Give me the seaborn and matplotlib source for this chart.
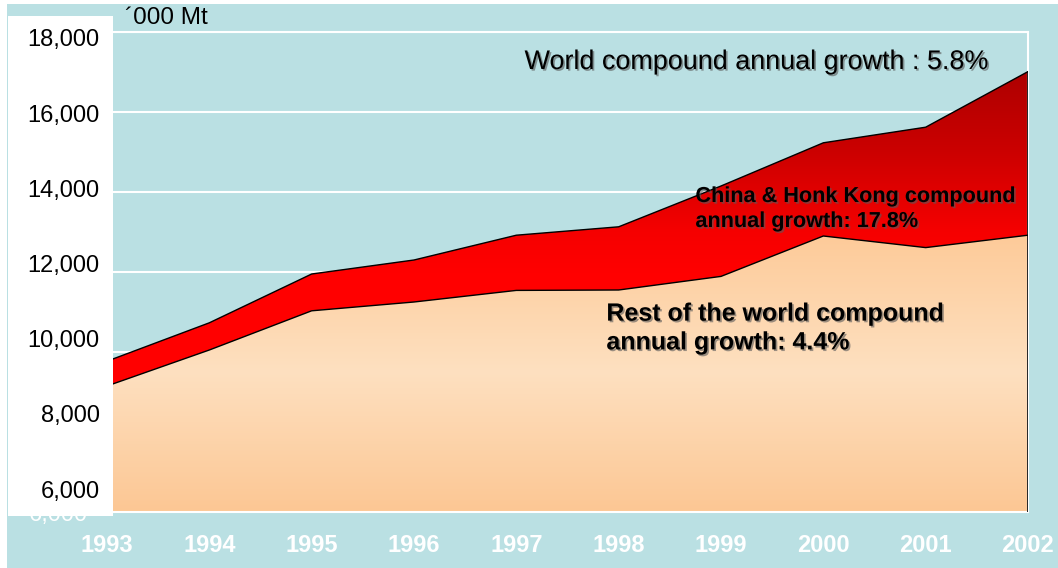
import numpy as np
import matplotlib
matplotlib.use("Agg")
import matplotlib.pyplot as plt
import matplotlib.patheffects as pe
from matplotlib.colors import LinearSegmentedColormap, Normalize
from matplotlib.patches import Rectangle
import seaborn as sns

# ---- data ('000 Mt) ----
years = [1993, 1994, 1995, 1996, 1997, 1998, 1999, 2000, 2001, 2002]
world_total = [9770, 10730, 11950, 12300, 12920, 13130, 14150, 15230, 15620, 17010]
rest_of_world = [9150, 10050, 11030, 11250, 11540, 11550, 11890, 12900, 12610, 12920]

y_ticks = [6000, 8000, 10000, 12000, 14000, 16000, 18000]
y_tick_labels = ["6,000", "8,000", "10,000", "12,000", "14,000", "16,000", "18,000"]
unit_label = "\u00b4000 Mt"

world_note = "World compound annual growth : 5.8%"
china_note = "China & Honk Kong compound\nannual growth: 17.8%"
rest_note = "Rest of the world compound\nannual growth: 4.4%"

# ---- style ----
BG = "#BAE0E3"
W, H = 1058, 568

sns.set_theme(style="white")
plt.rcParams["font.family"] = ["Liberation Sans", "DejaVu Sans"]

fig = plt.figure(figsize=(W / 100, H / 100), dpi=100)
fig.patch.set_facecolor("white")
fig.add_artist(Rectangle((7 / W, 0), 1 - 7 / W, 1 - 4 / H, transform=fig.transFigure,
                         facecolor=BG, edgecolor="none", zorder=-10))

ax = fig.add_axes([107 / W, 56 / H, 921 / W, 480 / H])
ax.set_facecolor(BG)

y_lo, y_hi = y_ticks[0], y_ticks[-1]


def gradient_band(lower, upper, stops):
    """Fill the band between two series with a vertical colour gradient."""
    band = ax.fill_between(years, lower, upper, facecolor="none", edgecolor="none")
    path = band.get_paths()[0]
    cmap = LinearSegmentedColormap.from_list(
        "band", [((v - y_lo) / (y_hi - y_lo), c) for v, c in stops])
    column = np.linspace(y_lo, y_hi, 800).reshape(-1, 1)
    img = ax.imshow(column, cmap=cmap, norm=Normalize(y_lo, y_hi),
                    extent=[years[0], years[-1], y_lo, y_hi], origin="lower",
                    aspect="auto", interpolation="bilinear", zorder=1)
    img.set_clip_path(path, transform=ax.transData)


# rest of the world (peach)
gradient_band([y_lo] * len(years), rest_of_world,
              [(6000, "#FCC794"), (9500, "#FEE0C0"), (13200, "#FDC996"), (18000, "#FDC996")])
# China & Hong Kong (red)
gradient_band(rest_of_world, world_total,
              [(6000, "#FF0000"), (12000, "#FF0000"), (13000, "#F60000"),
               (15000, "#CC0000"), (17000, "#AE0000"), (18000, "#A50000")])

# outlines
sns.lineplot(x=years, y=world_total, color="black", lw=1.0, ax=ax, zorder=3)
sns.lineplot(x=years, y=rest_of_world, color="black", lw=1.0, ax=ax, zorder=3)
ax.plot([years[-1], years[-1]], [y_lo, world_total[-1]], color="black", lw=1.2, zorder=3)

ax.set_xlim(years[0], years[-1])
ax.set_ylim(y_lo, y_hi)

# grid and axes; the axis' own white scale sits mostly behind the label panel,
# only its lowest value peeks out below it
ax.set_yticks(y_ticks)
ax.set_yticklabels([y_tick_labels[0]] + [""] * (len(y_tick_labels) - 1))
ax.grid(axis="y", color="white", lw=1.5)
ax.grid(axis="x", visible=False)
ax.set_axisbelow(True)
for s in ax.spines.values():
    s.set_color("white")
    s.set_linewidth(1.5)

ax.set_xticks(years)
ax.set_xticklabels([str(y) for y in years])
ax.tick_params(axis="x", direction="inout", length=7, width=1, color="white",
               labelcolor="white", labelsize=17, pad=12)
for t in ax.get_xticklabels():
    t.set_fontweight("bold")
ax.tick_params(axis="y", length=0, labelcolor="white", labelsize=17, pad=14)

# white label panel with the value scale
lab = fig.add_axes([8 / W, (H - 516) / H, 105 / W, 500 / H])
lab.set_zorder(5)
lab.set_facecolor("white")
for s in lab.spines.values():
    s.set_visible(False)
lab.set_xticks([])
lab.set_ylim(5282, 18585)
lab.set_yticks(y_ticks)
lab.set_yticklabels(y_tick_labels)
lab.tick_params(axis="y", length=0, pad=-66, labelsize=17, labelcolor="black")

fig.text(125 / W, 1 - 18 / H, unit_label, fontsize=17.5, color="black",
         ha="left", va="center", zorder=6)

shadow = [pe.withSimplePatchShadow(offset=(1.2, -1.2), shadow_rgbFace=(0.35, 0.35, 0.35), alpha=0.6)]

ax.text(1997.08, 17250, world_note, fontsize=19.4, color="black",
        ha="left", va="center", zorder=6, path_effects=shadow)
ax.text(1998.75, 13575, china_note, fontsize=15.6, fontweight="bold", color="black",
        ha="left", va="center", linespacing=1.25, zorder=6, path_effects=shadow)
ax.text(1997.88, 10600, rest_note, fontsize=18, fontweight="bold", color="black",
        ha="left", va="center", linespacing=1.25, zorder=6, path_effects=shadow)

fig.savefig("out.png", dpi=100, facecolor=fig.get_facecolor())
